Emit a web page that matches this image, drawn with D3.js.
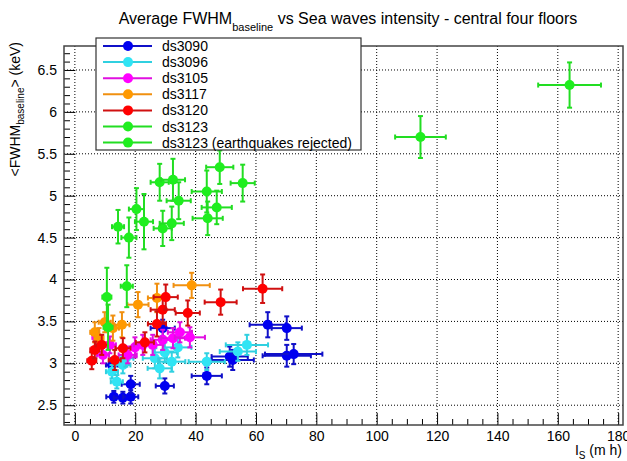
<!DOCTYPE html>
<html><head><meta charset="utf-8">
<script src="https://cdn.jsdelivr.net/npm/d3@7"></script>
<style>body{margin:0;background:#fff}svg{display:block}text{font-family:"Liberation Sans",Arial,sans-serif}</style>
</head><body>
<svg id="c" width="627" height="461"></svg>
<script>
// [x, y, ex, ey]
const ds3090 = [[12.9,2.60,2.5,0.07],[15.9,2.59,3,0.07],[18.5,2.60,2.5,0.08],[18.5,2.75,3,0.1],[12.3,2.98,2,0.08],[29.8,2.73,3,0.09],[29.1,3.42,4,0.1],[43.7,2.85,5,0.1],[51.3,3.08,6,0.12],[52.3,3.04,7,0.12],[63.9,3.46,6,0.15],[70.2,3.42,5,0.14],[70.2,3.09,8,0.13],[72.5,3.11,9.5,0.12]];
const ds3096 = [[12.3,2.90,2,0.08],[13.9,2.78,2,0.08],[15.9,2.98,2.5,0.1],[16.9,3.06,2.5,0.1],[26.5,3.06,4,0.12],[28.1,2.94,4,0.12],[29.8,3.13,4,0.12],[32.1,3.02,4.5,0.12],[34.1,3.19,4.5,0.12],[43.7,3.02,6,0.1],[54.0,3.14,6,0.11],[57.0,3.22,7,0.12]];
const ds3105 = [[7.3,3.31,1.5,0.1],[9.3,3.10,2,0.1],[11.6,3.22,2,0.1],[17.5,3.10,3,0.1],[19.9,3.19,3,0.12],[22.5,3.22,3,0.12],[25.8,3.22,3.5,0.12],[29.1,3.28,4,0.12],[32.5,3.30,4,0.12],[34.8,3.37,4,0.12],[38.1,3.31,5,0.12]];
const ds3117 = [[6.6,3.37,1.5,0.12],[8.0,3.30,1.5,0.12],[9.9,3.49,2,0.12],[12.6,3.42,2,0.15],[15.6,3.46,2.5,0.15],[20.9,3.70,3.5,0.15],[27.2,3.78,3,0.17],[38.7,3.93,6,0.15]];
const ds3120 = [[5.6,3.03,1.5,0.1],[6.6,3.16,1.5,0.1],[8.9,3.22,2,0.12],[13.2,3.04,2,0.12],[15.9,3.18,2.5,0.12],[23.2,3.25,3,0.12],[27.2,3.47,3,0.15],[29.1,3.64,4,0.15],[30.1,3.79,4,0.15],[37.4,3.60,4,0.15],[48.3,3.73,5.3,0.15],[62.2,3.89,6.5,0.17]];
const ds3123 = [[114.5,5.70,8.4,0.25],[163.9,6.32,10.4,0.27],[10.6,3.79,1.5,0.35],[11.0,3.43,1.5,0.27],[17.2,3.92,2,0.25],[14.3,4.63,2,0.2],[17.9,4.50,2.5,0.24],[20.4,4.84,2.5,0.25],[22.9,4.69,3,0.33]];
const ds3123eq = [[28.1,5.16,3,0.22],[29.1,4.61,3,0.21],[32.1,4.67,4,0.2],[32.5,5.19,4,0.25],[34.4,4.94,4,0.22],[43.7,5.05,5,0.25],[44.0,4.73,5,0.2],[47.0,4.86,5,0.2],[48.0,5.34,4.5,0.2],[55.6,5.15,4,0.22]];
const seriesNames = ["ds3090","ds3096","ds3105","ds3117","ds3120","ds3123","ds3123 (earthquakes rejected)"];
const seriesColors = ["#0000f0","#30e4f4","#ff00ff","#ff9900","#ff0000","#1fee1f","#1fee1f"];
const barColors = ["#1010c8","#30d0e0","#e010e0","#f09010","#d01010","#22dd22","#22dd22"];
const xTicks = [0,20,40,60,80,100,120,140,160,180];
const yTicks = [2.5,3,3.5,4,4.5,5,5.5,6,6.5];
const xDomain = [-3.6,181.6];
const yDomain = [2.264,6.786];

const allSeries = [ds3090,ds3096,ds3105,ds3117,ds3120,ds3123,ds3123eq];
const svg = d3.select("#c");
const L=64,R=623,T=46,B=425;
const x = d3.scaleLinear().domain(xDomain).range([L,R]);
const y = d3.scaleLinear().domain(yDomain).range([B,T]);
const FONT = "Liberation Sans, Arial, sans-serif";

// grid
const g = svg.append("g");
g.selectAll(".gx").data(xTicks).enter().append("line")
 .attr("x1",d=>x(d)).attr("x2",d=>x(d)).attr("y1",T).attr("y2",B)
 .attr("stroke","#000").attr("stroke-width",1).attr("stroke-dasharray","1,2");
g.selectAll(".gy").data(yTicks).enter().append("line")
 .attr("x1",L).attr("x2",R).attr("y1",d=>y(d)).attr("y2",d=>y(d))
 .attr("stroke","#000").attr("stroke-width",1).attr("stroke-dasharray","1,2");

// axes
const xAxis = d3.axisBottom(x).tickValues(xTicks).tickSize(-12).tickPadding(6).tickFormat(d3.format("d"));
const xMinor = d3.range(0,182,5).filter(v=>v%20!==0);
const yMinor = d3.range(2.3,6.79,0.1).map(v=>+v.toFixed(1)).filter(v=>Math.abs(v*2-Math.round(v*2))>1e-6);
const ax = svg.append("g").attr("transform",`translate(0,${B})`).call(xAxis);
ax.select(".domain").remove();
ax.selectAll("text").attr("font-size",14).attr("fill","#000").attr("font-family",FONT);
ax.selectAll(".tick line").attr("stroke","#000");
svg.append("g").attr("transform",`translate(0,${B})`).call(d3.axisBottom(x).tickValues(xMinor).tickSize(-6).tickFormat(""))
 .call(s=>s.select(".domain").remove()).selectAll("line").attr("stroke","#000");
const yAxis = d3.axisLeft(y).tickValues(yTicks).tickSize(-11).tickPadding(7).tickFormat(d=>d%1===0?d3.format("d")(d):d3.format(".1f")(d));
const ay = svg.append("g").attr("transform",`translate(${L},0)`).call(yAxis);
ay.select(".domain").remove();
ay.selectAll("text").attr("font-size",14).attr("fill","#000").attr("font-family",FONT);
ay.selectAll(".tick line").attr("stroke","#000");
svg.append("g").attr("transform",`translate(${L},0)`).call(d3.axisLeft(y).tickValues(yMinor).tickSize(-6).tickFormat(""))
 .call(s=>s.select(".domain").remove()).selectAll("line").attr("stroke","#000");

// frame
svg.append("rect").attr("x",L).attr("y",T).attr("width",R-L).attr("height",B-T)
 .attr("fill","none").attr("stroke","#444").attr("stroke-width",1.5);

// data
allSeries.forEach((data,i)=>{
  const sg = svg.append("g");
  const c = barColors[i];
  const p = sg.selectAll("g").data(data).enter().append("g");
  p.append("line").attr("x1",d=>x(d[0]-d[2])).attr("x2",d=>x(d[0]+d[2])).attr("y1",d=>y(d[1])).attr("y2",d=>y(d[1])).attr("stroke",c).attr("stroke-width",2);
  p.append("line").attr("x1",d=>x(d[0])).attr("x2",d=>x(d[0])).attr("y1",d=>y(d[1]-d[3])).attr("y2",d=>y(d[1]+d[3])).attr("stroke",c).attr("stroke-width",2);
  [-1,1].forEach(s=>{
    p.append("line").attr("x1",d=>x(d[0]+s*d[2])).attr("x2",d=>x(d[0]+s*d[2])).attr("y1",d=>y(d[1])-2.5).attr("y2",d=>y(d[1])+2.5).attr("stroke",c).attr("stroke-width",2);
    p.append("line").attr("y1",d=>y(d[1]+s*d[3])).attr("y2",d=>y(d[1]+s*d[3])).attr("x1",d=>x(d[0])-2.5).attr("x2",d=>x(d[0])+2.5).attr("stroke",c).attr("stroke-width",2);
  });
  p.append("circle").attr("cx",d=>x(d[0])).attr("cy",d=>y(d[1])).attr("r",5).attr("fill",seriesColors[i]);
});

// legend
const lg = svg.append("g");
lg.append("rect").attr("x",96).attr("y",38).attr("width",265).attr("height",112).attr("fill","#fff").attr("stroke","#333").attr("stroke-width",1.2);
seriesNames.forEach((n,i)=>{
  const yy = 46 + i*16.1;
  lg.append("line").attr("x1",103).attr("x2",152).attr("y1",yy).attr("y2",yy).attr("stroke",barColors[i]).attr("stroke-width",2);
  lg.append("circle").attr("cx",128).attr("cy",yy).attr("r",5).attr("fill",seriesColors[i]);
  lg.append("text").attr("x",162).attr("y",yy+5).attr("font-size",14).text(n);
});

// title
const t = svg.append("text").attr("x",348).attr("y",24).attr("text-anchor","middle").attr("font-size",16);
t.append("tspan").text("Average FWHM");
t.append("tspan").attr("font-size",11).attr("dy",7).text("baseline");
t.append("tspan").attr("dy",-7).text(" vs Sea waves intensity - central four floors");

// y label
const yl = svg.append("text").attr("transform","translate(20,42) rotate(-90)").attr("text-anchor","end").attr("font-size",14);
yl.append("tspan").text("<FWHM");
yl.append("tspan").attr("font-size",10).attr("dy",4).text("baseline");
yl.append("tspan").attr("dy",-4).text("> (keV)");

// x label
const xl = svg.append("text").attr("x",622).attr("y",455).attr("text-anchor","end").attr("font-size",14);
xl.append("tspan").text("I");
xl.append("tspan").attr("font-size",10).attr("dy",4).text("S");
xl.append("tspan").attr("dy",-4).text(" (m h)");
</script>
</body></html>
